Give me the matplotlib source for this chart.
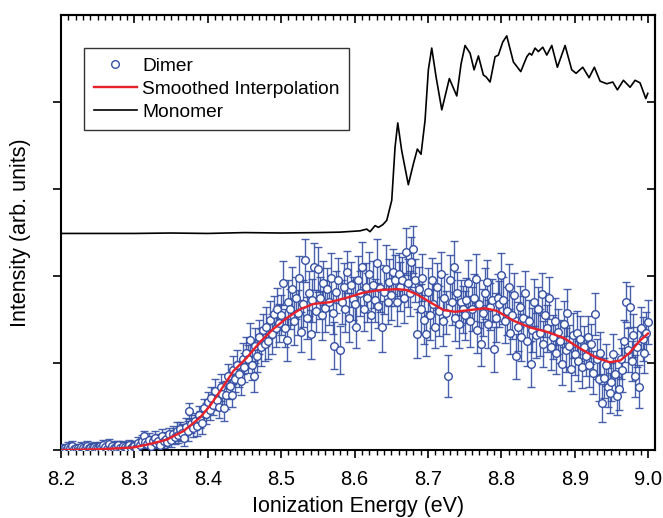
import numpy as np
import matplotlib
matplotlib.use("Agg")
import matplotlib.pyplot as plt
from matplotlib.ticker import MultipleLocator, NullFormatter

plt.rcParams['font.family'] = ['Liberation Sans', 'DejaVu Sans']

# ---------------- data ----------------
dimer_start = 8.2
dimer_step = 0.0025
dimer_y = [
    # 8.20
    0.02, 0.01, 0.03, 0.00, 0.04, 0.02, 0.05, 0.01, 0.03, 0.02, 0.00, 0.04, 0.03, 0.01, 0.05, 0.02, 0.03, 0.01, 0.04, 0.02,
    # 8.25
    0.03, 0.05, 0.02, 0.06, 0.04, 0.01, 0.07, 0.03, 0.05, 0.02, 0.04, 0.06, 0.03, 0.01, 0.05, 0.04, 0.02, 0.06, 0.03, 0.05,
    # 8.30
    0.05, 0.03, 0.08, 0.06, 0.10, 0.16, 0.09, 0.07, 0.12, 0.05, 0.10, 0.14, 0.08, 0.11, 0.06, 0.16, 0.10, 0.13, 0.09, 0.18,
    # 8.35
    0.12, 0.19, 0.15, 0.22, 0.17, 0.24, 0.20, 0.14, 0.27, 0.22, 0.45, 0.30, 0.26, 0.33, 0.28, 0.40, 0.35, 0.31, 0.48, 0.42,
    # 8.40
    0.55, 0.46, 0.60, 0.52, 0.68, 0.58, 0.50, 0.72, 0.65, 0.48, 0.63, 0.85, 0.74, 0.63, 0.92, 0.82, 0.98, 0.88, 0.79, 1.05,
    # 8.45
    0.95, 1.12, 1.05, 1.27, 0.98, 0.85, 1.20, 1.08, 1.30, 1.18, 1.38, 1.22, 1.42, 1.25, 1.50, 1.33, 1.56, 1.40, 1.62, 1.46,
    # 8.50
    1.55, 1.92, 1.40, 1.27, 1.70, 1.62, 1.85, 1.48, 1.75, 1.58, 1.98, 1.36, 1.68, 2.18, 1.52, 1.80, 1.33, 1.72, 2.11, 1.60,
    # 8.55
    2.08, 1.75, 1.55, 1.92, 1.63, 1.85, 1.70, 1.98, 1.58, 1.20, 1.82, 1.95, 1.15, 1.70, 1.88, 1.62, 2.05, 1.52, 1.90, 1.74,
    # 8.60
    1.68, 1.42, 1.95, 1.80, 2.10, 1.62, 1.88, 1.75, 2.02, 1.55, 1.90, 1.72, 2.15, 1.66, 1.86, 1.42, 1.82, 2.08, 1.70, 1.93,
    # 8.65
    1.78, 2.05, 1.95, 1.70, 2.02, 1.88, 1.96, 1.75, 2.28, 1.92, 1.80, 2.16, 2.31, 1.95, 1.34, 1.85, 1.62, 1.98, 1.50, 1.34,
    # 8.70
    1.82, 1.55, 1.95, 1.68, 1.42, 1.88, 1.60, 2.02, 1.48, 1.75, 1.58, 0.85, 1.96, 1.70, 2.11, 1.52, 1.80, 1.45, 1.70, 1.62,
    # 8.75
    1.55, 1.72, 1.92, 1.48, 1.62, 1.75, 1.97, 1.38, 1.68, 1.22, 1.58, 1.80, 1.93, 1.45, 1.65, 1.72, 1.16, 1.52, 1.75, 1.68,
    # 8.80
    2.01, 1.72, 1.48, 1.60, 1.88, 1.35, 1.55, 1.78, 1.08, 1.42, 1.65, 1.30, 1.52, 1.80, 1.25, 1.48, 0.99, 1.38, 1.70, 1.32,
    # 8.85
    1.62, 1.35, 1.79, 1.22, 1.55, 1.40, 1.75, 1.18, 1.30, 1.48, 1.12, 1.36, 1.25, 0.99, 1.45, 1.15, 1.58, 1.20, 0.93, 1.32,
    # 8.90
    1.10, 1.35, 1.02, 1.28, 0.95, 1.18, 1.08, 1.30, 0.98, 1.22, 0.89, 1.56, 1.05, 0.82, 1.12, 0.54, 0.83, 0.98, 0.72, 0.66,
    # 8.95 .. 9.00
    0.78, 1.10, 0.88, 0.62, 0.70, 1.05, 0.92, 1.25, 1.70, 1.15, 1.65, 1.02, 1.32, 0.85, 1.18, 0.73, 1.40, 1.28, 1.12, 1.35, 1.47,
]
dimer_err = [
    0.04, 0.05, 0.04, 0.03, 0.05, 0.04, 0.05, 0.04, 0.03, 0.05, 0.04, 0.05, 0.04, 0.03, 0.05, 0.04, 0.05, 0.04, 0.05, 0.04,
    0.05, 0.04, 0.05, 0.06, 0.04, 0.05, 0.06, 0.05, 0.04, 0.05, 0.06, 0.05, 0.04, 0.05, 0.06, 0.05, 0.05, 0.06, 0.05, 0.06,
    0.06, 0.05, 0.07, 0.06, 0.07, 0.06, 0.07, 0.06, 0.08, 0.07, 0.06, 0.08, 0.07, 0.08, 0.07, 0.08, 0.07, 0.08, 0.09, 0.08,
    0.08, 0.09, 0.08, 0.10, 0.09, 0.08, 0.10, 0.09, 0.10, 0.11, 0.09, 0.10, 0.11, 0.10, 0.12, 0.11, 0.10, 0.12, 0.11, 0.12,
    0.12, 0.11, 0.13, 0.12, 0.14, 0.12, 0.13, 0.15, 0.13, 0.14, 0.16, 0.14, 0.15, 0.13, 0.16, 0.15, 0.17, 0.15, 0.16, 0.18,
    0.17, 0.18, 0.16, 0.19, 0.17, 0.18, 0.20, 0.18, 0.19, 0.21, 0.19, 0.20, 0.22, 0.20, 0.21, 0.23, 0.21, 0.22, 0.24, 0.22,
    0.23, 0.25, 0.22, 0.24, 0.26, 0.23, 0.25, 0.27, 0.24, 0.26, 0.25, 0.23, 0.27, 0.25, 0.24, 0.26, 0.28, 0.25, 0.27, 0.24,
    0.26, 0.24, 0.28, 0.25, 0.27, 0.24, 0.26, 0.28, 0.25, 0.27, 0.24, 0.26, 0.28, 0.25, 0.27, 0.26, 0.24, 0.28, 0.26, 0.25,
    0.27, 0.25, 0.28, 0.26, 0.29, 0.25, 0.27, 0.28, 0.26, 0.29, 0.27, 0.25, 0.28, 0.26, 0.27, 0.29, 0.26, 0.28, 0.25, 0.27,
    0.28, 0.26, 0.29, 0.27, 0.25, 0.28, 0.26, 0.29, 0.27, 0.28, 0.26, 0.29, 0.27, 0.25, 0.28, 0.26, 0.29, 0.27, 0.28, 0.26,
    0.27, 0.29, 0.26, 0.28, 0.25, 0.27, 0.29, 0.26, 0.28, 0.27, 0.25, 0.24, 0.28, 0.26, 0.29, 0.27, 0.25, 0.28, 0.26, 0.27,
    0.28, 0.26, 0.27, 0.29, 0.25, 0.27, 0.28, 0.26, 0.28, 0.25, 0.27, 0.29, 0.26, 0.28, 0.27, 0.25, 0.26, 0.28, 0.27, 0.26,
    0.26, 0.27, 0.25, 0.28, 0.26, 0.24, 0.27, 0.25, 0.26, 0.28, 0.24, 0.27, 0.25, 0.26, 0.28, 0.24, 0.26, 0.25, 0.27, 0.26,
    0.25, 0.27, 0.24, 0.26, 0.25, 0.27, 0.24, 0.26, 0.25, 0.27, 0.24, 0.26, 0.25, 0.24, 0.26, 0.25, 0.27, 0.24, 0.25, 0.26,
    0.24, 0.25, 0.23, 0.26, 0.24, 0.25, 0.23, 0.24, 0.26, 0.23, 0.25, 0.24, 0.23, 0.25, 0.24, 0.22, 0.23, 0.24, 0.22, 0.23,
    0.22, 0.24, 0.23, 0.22, 0.24, 0.23, 0.25, 0.24, 0.23, 0.25, 0.24, 0.23, 0.25, 0.24, 0.23, 0.25, 0.24, 0.25, 0.23, 0.24, 0.25,
]

smooth_x = [8.200, 8.253, 8.298, 8.321, 8.344, 8.367, 8.389, 8.403, 8.417, 8.435, 8.453, 8.471,
            8.489, 8.508, 8.526, 8.544, 8.566, 8.589, 8.612, 8.635, 8.658, 8.671, 8.685, 8.703,
            8.721, 8.737, 8.757, 8.778, 8.794, 8.816, 8.839, 8.862, 8.885, 8.907, 8.930, 8.948,
            8.962, 8.975, 8.989, 9.000]
smooth_y = [0.00, 0.01, 0.03, 0.07, 0.12, 0.22, 0.37, 0.51, 0.68, 0.91, 1.06, 1.24,
            1.39, 1.52, 1.62, 1.68, 1.70, 1.75, 1.81, 1.84, 1.85, 1.84, 1.79, 1.70,
            1.61, 1.59, 1.61, 1.63, 1.60, 1.49, 1.41, 1.36, 1.29, 1.17, 1.06, 1.01,
            1.03, 1.12, 1.26, 1.34]

mono_x = [8.200, 8.250, 8.300, 8.350, 8.400, 8.450, 8.500, 8.550, 8.580, 8.6075, 8.6166, 8.6211,
          8.628, 8.6325, 8.6384, 8.6439, 8.6507, 8.6552, 8.6589, 8.6643, 8.6733, 8.6802, 8.6856,
          8.6906, 8.6961, 8.7006, 8.7052, 8.7111, 8.7189, 8.7292, 8.7393, 8.7452, 8.7506, 8.7575,
          8.7629, 8.7688, 8.7756, 8.7792, 8.7847, 8.7915, 8.7960, 8.8020, 8.8074, 8.8165, 8.8265,
          8.8347, 8.8383, 8.8415, 8.8460, 8.8505, 8.8565, 8.8620, 8.8688, 8.8764, 8.8869, 8.8960,
          8.9019, 8.9110, 8.9196, 8.9268, 8.9346, 8.9437, 8.9519, 8.9582, 8.9664, 8.9755, 8.9823,
          8.9891, 8.9969, 8.9996]
mono_y = [2.49, 2.49, 2.49, 2.495, 2.49, 2.50, 2.495, 2.50, 2.505, 2.52, 2.54, 2.51,
          2.58, 2.56, 2.59, 2.64, 2.87, 3.48, 3.76, 3.44, 3.05, 3.29, 3.46,
          3.40, 3.79, 4.37, 4.62, 4.29, 3.91, 4.27, 4.07, 4.44, 4.65, 4.56,
          4.37, 4.53, 4.31, 4.29, 4.23, 4.52, 4.54, 4.69, 4.76, 4.46, 4.35,
          4.52, 4.56, 4.54, 4.62, 4.58, 4.63, 4.54, 4.65, 4.40, 4.65, 4.37,
          4.33, 4.40, 4.28, 4.40, 4.24, 4.21, 4.23, 4.14, 4.25, 4.17, 4.25,
          4.22, 4.04, 4.10]

x_ticks = [8.2, 8.3, 8.4, 8.5, 8.6, 8.7, 8.8, 8.9, 9.0]
x_tick_labels = ["8.2", "8.3", "8.4", "8.5", "8.6", "8.7", "8.8", "8.9", "9.0"]

# ---------------- plot ----------------
dimer_x = dimer_start + dimer_step * np.arange(len(dimer_y))

fig = plt.figure(figsize=(6.63, 5.18), dpi=100)
ax = fig.add_axes([0.092, 0.131, 0.896, 0.84])

blue = '#3550A4'
ax.errorbar(dimer_x, dimer_y, yerr=dimer_err, fmt='none', ecolor=blue,
            elinewidth=1.0, capsize=3.2, capthick=1.0, zorder=2, alpha=0.9)
ax.plot(dimer_x, dimer_y, 'o', mfc='white', mec=blue, mew=1.0, ms=5.5,
        ls='none', zorder=3, label='Dimer')
ax.plot(smooth_x, smooth_y, color='#E8202A', lw=1.7, zorder=4,
        label='Smoothed Interpolation')
ax.plot(mono_x, mono_y, color='black', lw=1.2, zorder=4, label='Monomer')

ax.set_xlim(8.2, 9.0095)
ax.set_ylim(0, 5)
ax.set_xticks(x_ticks)
ax.set_xticklabels(x_tick_labels)
ax.xaxis.set_minor_locator(MultipleLocator(0.01))
ax.set_yticks([0, 1, 2, 3, 4])
ax.yaxis.set_major_formatter(NullFormatter())

ax.tick_params(axis='x', which='major', direction='out', length=6, width=1.2,
               labelsize=14.5, top=False, pad=8.5)
ax.tick_params(axis='x', which='minor', direction='out', length=3.5, width=1.0, top=False)
ax.tick_params(axis='y', which='major', direction='out', length=6, width=1.2, right=False)

# top and right inner ticks
secx = ax.secondary_xaxis('top')
secx.set_xticks(x_ticks)
secx.xaxis.set_minor_locator(MultipleLocator(0.01))
secx.tick_params(axis='x', which='major', direction='in', length=6, width=1.2, labeltop=False)
secx.tick_params(axis='x', which='minor', direction='in', length=3.5, width=1.0)
secx.spines['top'].set_linewidth(1.5)
secy = ax.secondary_yaxis('right')
secy.set_yticks([0, 1, 2, 3, 4])
secy.tick_params(axis='y', which='major', direction='in', length=6, width=1.2, labelright=False)
secy.spines['right'].set_linewidth(1.5)

for s in ax.spines.values():
    s.set_linewidth(1.5)

ax.set_xlabel('Ionization Energy (eV)', fontsize=15.5, labelpad=5)
ax.set_ylabel('Intensity (arb. units)', fontsize=15.5, labelpad=12)

leg = ax.legend(loc='upper left', bbox_to_anchor=(0.0387, 0.924), borderaxespad=0,
                fontsize=13.8, frameon=True, fancybox=False, edgecolor='black',
                handlelength=2.24, handletextpad=0.3, labelspacing=0.28,
                borderpad=0.5)
leg.get_frame().set_linewidth(1.0)

fig.savefig('out.png', dpi=100)
